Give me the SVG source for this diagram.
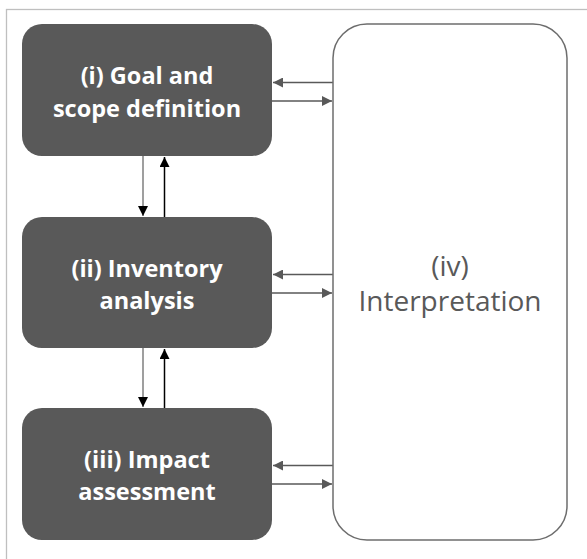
<svg xmlns="http://www.w3.org/2000/svg" width="587" height="559" viewBox="0 0 587 559">
<defs>
<style>
.box{fill:#595959;}
.t{font-family:"Open Sans","Noto Sans",sans-serif;font-weight:bold;font-size:23.5px;fill:#ffffff;text-anchor:middle;}
.it{font-family:"Open Sans","Noto Sans",sans-serif;font-size:28px;fill:#595959;text-anchor:middle;}
.h{stroke:#595959;stroke-width:1.3;fill:none;}
.vd{stroke:#7f7f7f;stroke-width:1.5;fill:none;}
.vu{stroke:#000000;stroke-width:1.5;fill:none;}
</style>
<marker id="ag" viewBox="0 0 10 10" refX="10" refY="5" markerWidth="10" markerHeight="10" markerUnits="userSpaceOnUse" orient="auto"><path d="M0,0 L10,5 L0,10 z" fill="#595959"/></marker>
<marker id="ab" viewBox="0 0 10 10" refX="10" refY="5" markerWidth="10" markerHeight="10" markerUnits="userSpaceOnUse" orient="auto"><path d="M0,0 L10,5 L0,10 z" fill="#000000"/></marker>
</defs>
<rect x="6.5" y="9.5" width="620" height="600" fill="#ffffff" stroke="#bfbfbf" stroke-width="1.3"/>
<g id="connectors">
<line class="h" x1="333" y1="82.5" x2="273" y2="82.5" marker-end="url(#ag)"/>
<line class="h" x1="272" y1="101" x2="332" y2="101" marker-end="url(#ag)"/>
<line class="h" x1="333" y1="274.5" x2="273" y2="274.5" marker-end="url(#ag)"/>
<line class="h" x1="272" y1="293" x2="332" y2="293" marker-end="url(#ag)"/>
<line class="h" x1="333" y1="465.5" x2="273" y2="465.5" marker-end="url(#ag)"/>
<line class="h" x1="272" y1="484" x2="332" y2="484" marker-end="url(#ag)"/>
<line class="vd" x1="143" y1="156" x2="143" y2="216" marker-end="url(#ab)"/>
<line class="vu" x1="164.5" y1="217" x2="164.5" y2="157" marker-end="url(#ab)"/>
<line class="vd" x1="143" y1="348" x2="143" y2="407" marker-end="url(#ab)"/>
<line class="vu" x1="164.5" y1="408" x2="164.5" y2="349" marker-end="url(#ab)"/>
</g>
<g id="goal">
<rect class="box" x="22" y="24" width="250" height="132" rx="20"/>
<text class="t" x="147" y="84">(i) Goal and</text>
<text class="t" x="147" y="117">scope definition</text>
</g>
<g id="inventory">
<rect class="box" x="22" y="217" width="250" height="131" rx="20"/>
<text class="t" x="147" y="277">(ii) Inventory</text>
<text class="t" x="147" y="309">analysis</text>
</g>
<g id="impact">
<rect class="box" x="22" y="408" width="250" height="132" rx="20"/>
<text class="t" x="147" y="468">(iii) Impact</text>
<text class="t" x="147" y="500">assessment</text>
</g>
<g id="interpretation">
<rect x="333" y="24" width="234" height="516" rx="34" fill="#ffffff" stroke="#6d6d6d" stroke-width="1.5"/>
<text class="it" x="450" y="276">(iv)</text>
<text class="it" x="450" y="311">Interpretation</text>
</g>
</svg>
